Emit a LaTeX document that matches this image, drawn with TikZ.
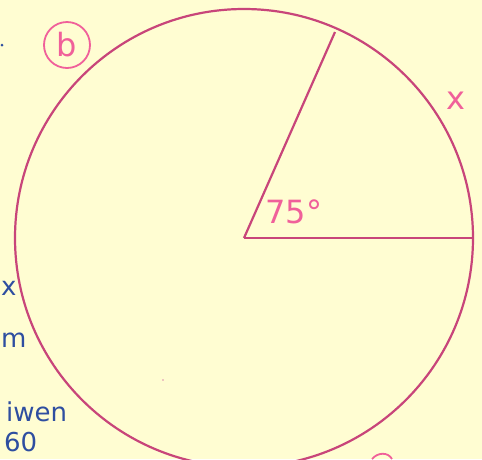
\documentclass[tikz,border=0pt]{standalone}
\usepackage{fontspec}
\setmainfont{DejaVu Sans}
\definecolor{paper}{HTML}{FFFDD2}
\definecolor{ink}{HTML}{C8457A}
\definecolor{pinkink}{HTML}{F0609A}
\definecolor{blueink}{HTML}{2E4EA0}
\tikzset{
  edge/.style={draw=ink, line width=2.2pt},
  pinklabel/.style={text=pinkink, font=\fontsize{32}{34}\selectfont, inner sep=0pt},
  bluelabel/.style={text=blueink, font=\fontsize{26}{28}\selectfont, inner sep=0pt}
}
\begin{document}
\begin{tikzpicture}[x=1pt,y=-1pt]
\useasboundingbox (0,0) rectangle (482,459);
\clip (0,0) rectangle (482,459);
\fill[paper] (0,0) rectangle (482,459);
% circle
\coordinate (O) at (244,238);
\draw[edge] (O) circle (229);
\coordinate (A) at (473,238);
\coordinate (B) at (335,32);
\draw[edge] (O) -- (A);
\draw[edge] (O) -- (B);
% labels
\node[pinklabel] (ang) at (294,212) {75\textdegree};
\node[pinklabel, draw=pinkink, circle, line width=1.8pt, minimum size=46pt, inner sep=2pt] (b) at (67,45) {b};
\node[pinklabel] (x) at (456,101) {x};
% blue notes at left edge
\node[bluelabel, anchor=west] (n1) at (1,288) {x};
\node[bluelabel, anchor=west] (n2) at (1,340) {m};
\node[bluelabel, anchor=west] (n3) at (6,412) {iwen};
\node[bluelabel, anchor=west] (n4) at (4,442) {60};
\fill[blueink] (2,45) circle (1.5);
\fill[ink!60] (163,380) circle (0.8);
% partial pink mark at bottom
\draw[pinkink, line width=1.8pt] (372,459) .. controls (378,452) and (388,452) .. (392,459);
\end{tikzpicture}
\end{document}
